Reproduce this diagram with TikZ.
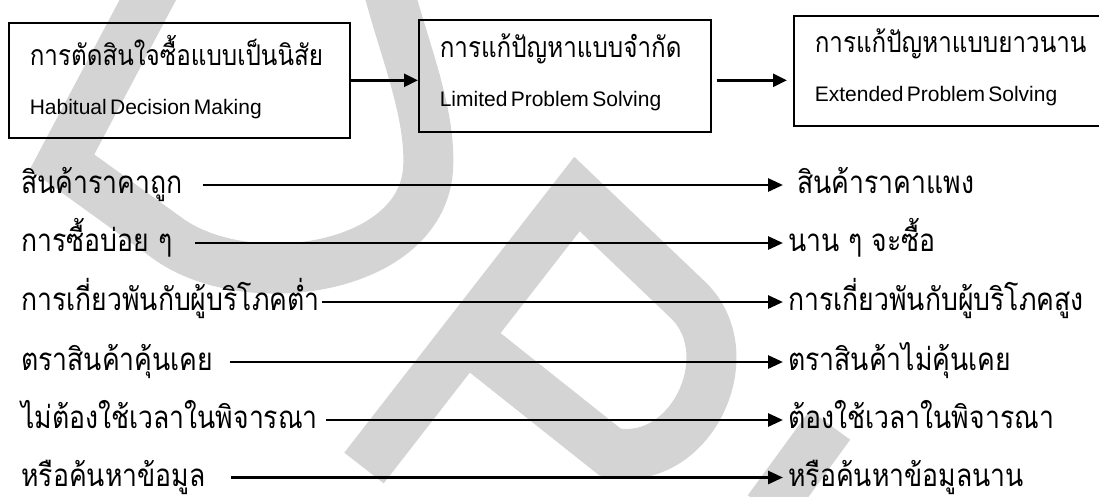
\documentclass[tikz,border=0pt]{standalone}
\usepackage{fontspec}
\setmainfont{Liberation Sans}
\newfontfamily\engfont{Liberation Sans}
\newfontfamily\thaifont[Script=Thai, FakeStretch=0.85]{Loma}
\usetikzlibrary{arrows.meta}

\newcommand\boxthai{\thaifont\fontsize{28.5}{32}\selectfont}
\newcommand\boxeng{\engfont\fontsize{21}{25}\selectfont}
\newcommand\rowthai{\thaifont\fontsize{31.3}{36}\selectfont}

\begin{document}
\begin{tikzpicture}[x=1pt, y=-1pt,
    wmband/.style={line width=50pt, black!17},
    stagebox/.style={draw, line width=1.6pt, anchor=north west, align=left,
      inner xsep=21pt, inner ysep=0pt},
    stagearrow/.style={line width=2.6pt, -{Triangle[length=14pt,width=13pt]}},
    rowtext/.style={font=\rowthai, inner sep=0pt, text height=20pt,
      text depth=3pt, anchor=base west},
    rowarrow/.style={line width=2.8pt, -{Triangle[length=15pt,width=13pt]}}]
  \useasboundingbox (0,0) rectangle (1099,496);
  \clip (0,0) rectangle (1099,496);

  % watermark
  \draw[wmband] (161,-25) -- (62,162) -- (170,240)
    .. controls (250,295) and (420,270) .. (428,170)
    .. controls (432,110) and (400,40) .. (385,-25);
  \draw[wmband] (364,468) -- (577,194) -- (688,300)
    .. controls (745,355) and (690,470) .. (610,452) -- (464,336);
  \draw[wmband] (830,425) -- (768,510);

  % three kinds of decision
  \node[stagebox, text width=299pt, minimum height=115pt] (habit) at (8,22)
    {\boxthai การตัดสินใจซื้อแบบเป็นนิสัย\\[24pt]\boxeng Habitual Decision Making\\[-1pt]\mbox{}};
  \node[stagebox, text width=250pt, minimum height=112pt] (limited) at (418,19)
    {\boxthai การแก้ปัญหาแบบจำกัด\\[24pt]\boxeng Limited Problem Solving\\[-1pt]\mbox{}};
  \node[stagebox, text width=290pt, minimum height=110pt] (extended) at (793,15)
    {\boxthai การแก้ปัญหาแบบยาวนาน\\[24pt]\boxeng Extended Problem Solving\\[-1pt]\mbox{}};

  \draw[stagearrow] (habit.east) -- (habit.east -| limited.west);
  \draw[stagearrow, shorten <=5pt, shorten >=6pt]
    (habit.east -| limited.east) -- (habit.east -| extended.west);

  % from one end to the other
  \node[rowtext] (cheap) at (21,193.5) {สินค้าราคาถูก};
  \node[rowtext] (often) at (21,251.5) {การซื้อบ่อย ๆ};
  \node[rowtext] (lowinv) at (21,310.5) {การเกี่ยวพันกับผู้บริโภคต่ำ};
  \node[rowtext] (known) at (21,370.5) {ตราสินค้าคุ้นเคย};
  \node[rowtext] (notime) at (21,428.5) {ไม่ต้องใช้เวลาในพิจารณา};
  \node[rowtext] (nosearch) at (21,486) {หรือค้นหาข้อมูล};

  \node[rowtext] (dear) at (797,193.5) {สินค้าราคาแพง};
  \node[rowtext] (seldom) at (788,251.5) {นาน ๆ จะซื้อ};
  \node[rowtext] (highinv) at (788,310.5) {การเกี่ยวพันกับผู้บริโภคสูง};
  \node[rowtext] (unknown) at (788,370.5) {ตราสินค้าไม่คุ้นเคย};
  \node[rowtext] (needtime) at (788,428.5) {ต้องใช้เวลาในพิจารณา};
  \node[rowtext] (longsearch) at (788,486) {หรือค้นหาข้อมูลนาน};

  \draw[rowarrow, shorten <=20pt, shorten >=14pt] (cheap.east) -- (dear.west);
  \draw[rowarrow, shorten <=23pt, shorten >=5pt] (often.east) -- (seldom.west);
  \draw[rowarrow, shorten <=2pt, shorten >=5pt] (lowinv.east) -- (highinv.west);
  \draw[rowarrow, shorten <=16pt, shorten >=5pt] (known.east) -- (unknown.west);
  \draw[rowarrow, shorten <=8pt, shorten >=5pt] (notime.east) -- (needtime.west);
  \draw[rowarrow, shorten <=25pt, shorten >=5pt] (nosearch.east) -- (longsearch.west);
\end{tikzpicture}
\end{document}
